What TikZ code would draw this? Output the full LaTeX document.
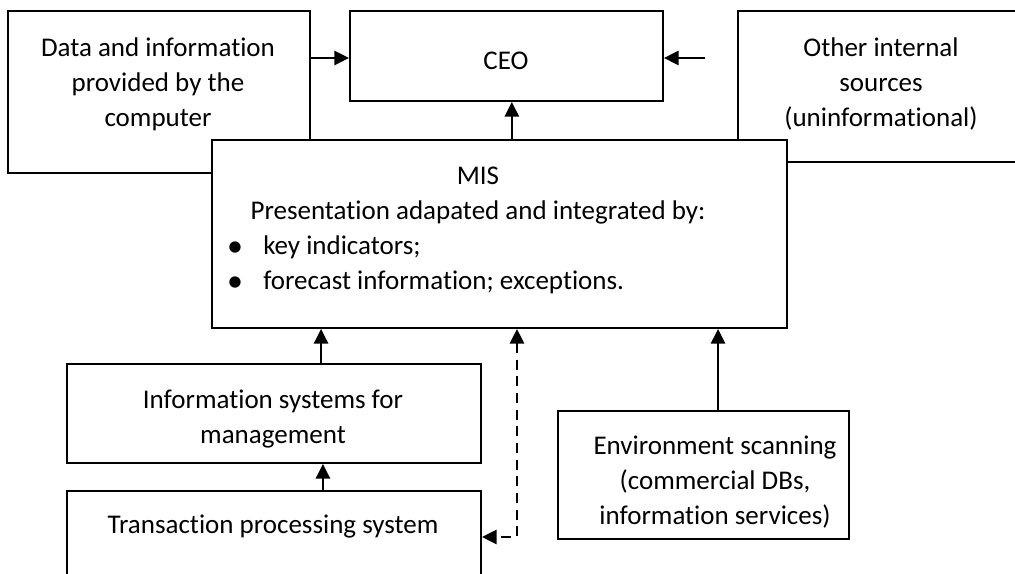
\documentclass[tikz,border=0pt]{standalone}
\usepackage{fontspec}
\setmainfont{Carlito}[Ligatures=NoCommon]
\usetikzlibrary{arrows.meta,fit}
\begin{document}
\begin{tikzpicture}[x=0.75pt,y=-0.75pt,
  box/.style={draw, line width=1.4pt, fill=white, inner sep=0pt},
  txt/.style={font=\fontsize{20.25}{26.25}\selectfont, align=center, inner sep=0pt, anchor=base},
  tip/.tip={Triangle[length=11pt,width=10.5pt]},
  arr/.style={line width=2pt, -tip},
  darr/.style={line width=2pt, tip-tip, dash pattern=on 7.5pt off 5pt}]
\clip (0,0) rectangle (1015,574);
\fill[white] (0,0) rectangle (1015,574);
% upper boxes
\node[box, fit={(8,11) (310,173)}] (data) {};
\node[box, fit={(350,11) (663,101)}] (ceo) {};
\node[box, fit={(738,11) (1024,162)}] (other) {};
% MIS box on top
\node[box, fit={(212,140) (787,328)}] (mis) {};
% lower boxes
\node[box, fit={(67,364) (481,463)}] (ism) {};
\node[box, fit={(67,491) (481,600)}] (tps) {};
\node[box, fit={(558,411) (849,539)}] (env) {};
% texts (anchor base = baseline of the last line)
\node[txt] (tdata) at (158,127) {Data and information\\provided by the\\computer};
\node[txt] (tceo) at (506,70) {CEO};
\node[txt] (tother) at (881,127) {Other internal\\sources\\(uninformational)};
\node[txt] (tmis) at (478,220) {MIS\\Presentation adapated and integrated by:};
\node[txt] (b1) at (235,255) {\raisebox{-1.5pt}{\fontsize{24}{24}\selectfont\textbullet}};
\node[txt, anchor=base west] (k1) at (263,255) {key indicators;};
\node[txt] (b2) at (235,290) {\raisebox{-1.5pt}{\fontsize{24}{24}\selectfont\textbullet}};
\node[txt, anchor=base west] (k2) at (263,290) {forecast information; exceptions.};
\node[txt] (tism) at (273,443) {Information systems for\\management};
\node[txt] (ttps) at (273,533) {Transaction processing system};
\node[txt] (tenv) at (715,524) {Environment scanning\\(commercial DBs,\\information services)};
% connectors
\draw[arr] ([yshift=-1.5pt]ceo.west -| data.east) -- ([yshift=-1.5pt]ceo.west);
\coordinate (free) at (705,58);
\draw[arr] (free) -- (free -| ceo.east);
\draw[arr] ([xshift=4pt]ceo.south |- mis.north) -- ([xshift=4pt]ceo.south);
\draw[arr] ([xshift=35.3pt]ism.north) -- ([xshift=35.3pt]ism.north |- mis.south);
\draw[arr] ([xshift=36.7pt]tps.north) -- ([xshift=36.7pt]tps.north |- ism.south);
\draw[arr] ([xshift=10.9pt]env.north) -- ([xshift=10.9pt]env.north |- mis.south);
\coordinate (dc) at (517,537);
\draw[darr] (dc |- mis.south) -- (dc) -- (dc -| tps.east);
\end{tikzpicture}
\end{document}
